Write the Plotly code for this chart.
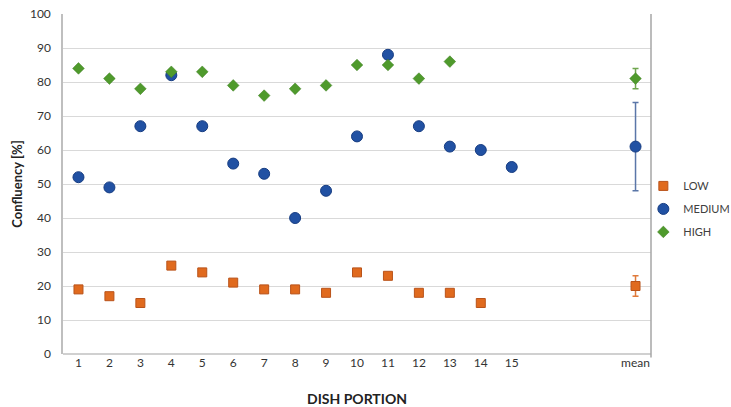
import plotly.graph_objects as go

# ---- data ----
portions = list(range(1, 16))
low = [19, 17, 15, 26, 24, 21, 19, 19, 18, 24, 23, 18, 18, 15, None]
medium = [52, 49, 67, 82, 67, 56, 53, 40, 48, 64, 88, 67, 61, 60, 55]
high = [84, 81, 78, 83, 83, 79, 76, 78, 79, 85, 85, 81, 86, None, None]

mean_label = "mean"
low_mean, low_err = 20, 3
medium_mean, medium_err = 61, 13
high_mean, high_err = 81, 3

tick_labels = [str(p) for p in portions] + [mean_label]

# ---- layout constants ----
MEAN_POS = 19
tick_positions = portions + [MEAN_POS]

FONT = "Lato"
series = [
    ("LOW", low, low_mean, low_err,
     dict(symbol="square", size=9, color="#E06A1E", line=dict(color="#B9531A", width=1)), "#E07A3A"),
    ("MEDIUM", medium, medium_mean, medium_err,
     dict(symbol="circle", size=11, color="#2151A3", line=dict(color="#173D82", width=1)), "#5A76A8"),
    ("HIGH", high, high_mean, high_err,
     dict(symbol="diamond", size=9, color="#4F9A2C", line=dict(color="#3F7F22", width=0.5)), "#6FA64E"),
]

fig = go.Figure()
for name, vals, m, e, marker, ecol in series:
    fig.add_trace(go.Scatter(
        x=portions, y=vals, mode="markers", name=name, marker=marker,
        legendgroup=name, showlegend=True, hoverinfo="x+y"))
    fig.add_trace(go.Scatter(
        x=[MEAN_POS], y=[m], mode="markers", name=name, marker=marker,
        legendgroup=name, showlegend=False,
        error_y=dict(type="constant", value=e, color=ecol, thickness=1.5, width=3)))

fig.update_layout(
    width=731, height=407,
    margin=dict(l=63, r=80, t=14, b=53, autoexpand=False),
    paper_bgcolor="white", plot_bgcolor="white",
    font=dict(family=FONT, size=12, color="#404040"),
    showlegend=True,
    legend=dict(x=0.987, y=0.537, xanchor="left", yanchor="top",
                font=dict(family=FONT, size=11, color="#404040"),
                tracegroupgap=4, itemwidth=30, bgcolor="rgba(0,0,0,0)"),
    xaxis=dict(range=[0.5, MEAN_POS + 0.5], tickmode="array",
               tickvals=tick_positions, ticktext=tick_labels,
               showgrid=False, zeroline=False, showline=False,
               ticks="", automargin=False,
               tickfont=dict(family=FONT, size=12, color="#333333"),
               title=dict(text="<b>DISH PORTION</b>", standoff=27,
                          font=dict(family=FONT, size=14, color="#222222"))),
    yaxis=dict(range=[0, 100], tickmode="linear", tick0=0, dtick=10,
               showgrid=True, gridcolor="#D9D9D9", gridwidth=1,
               zeroline=True, zerolinecolor="#D0D0D0", zerolinewidth=2,
               showline=True, linecolor="#BFBFBF", linewidth=1.5,
               ticks="", ticklabelstandoff=8, automargin=False,
               tickfont=dict(family=FONT, size=12, color="#333333"),
               title=dict(text="<b>Confluency [%]</b>", standoff=4,
                          font=dict(family=FONT, size=13, color="#222222"))),
)

fig.add_shape(type="line", xref="paper", yref="paper", x0=1, x1=1, y0=-0.01, y1=1,
              line=dict(color="#A6A6A6", width=1.5))

fig.write_html("out.html", config={"displayModeBar": False},
               post_script="document.body.style.margin='0';")
